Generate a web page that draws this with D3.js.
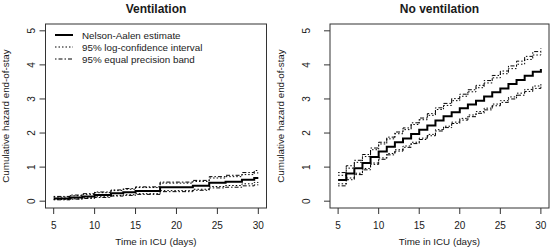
<!DOCTYPE html>
<html>
<head>
<meta charset="utf-8">
<script src="https://cdn.jsdelivr.net/npm/d3@7/dist/d3.min.js"></script>
<style>
  body { margin: 0; background: #fff; }
  svg { display: block; font-family: "Liberation Sans", Arial, sans-serif; }
</style>
</head>
<body>
<svg id="chart" width="553" height="250"></svg>
<script>
const xTicks = [5, 10, 15, 20, 25, 30];
const yTicks = [0, 1, 2, 3, 4, 5];
const tEnd = 30;

// Ventilation: jump times and step values
const ventTime = [5, 7, 8.5, 10, 12, 13.5, 15, 18, 22, 24, 26, 28, 29.5];
const ventNA   = [0.08, 0.11, 0.14, 0.18, 0.23, 0.26, 0.30, 0.41, 0.45, 0.54, 0.57, 0.63, 0.68];
const ventLogU = [0.12, 0.16, 0.20, 0.25, 0.31, 0.35, 0.40, 0.53, 0.58, 0.68, 0.72, 0.78, 0.83];
const ventLogL = [0.05, 0.07, 0.10, 0.13, 0.17, 0.19, 0.22, 0.31, 0.35, 0.43, 0.46, 0.51, 0.55];
const ventEpU  = [0.14, 0.18, 0.22, 0.27, 0.33, 0.37, 0.42, 0.56, 0.61, 0.72, 0.76, 0.84, 0.90];
const ventEpL  = [0.04, 0.06, 0.08, 0.11, 0.15, 0.17, 0.20, 0.28, 0.32, 0.39, 0.41, 0.45, 0.48];

// No ventilation
const noVentTime = [5, 6, 7, 8, 9, 10, 11, 12, 13, 14, 15, 16, 17, 18, 19, 20, 21, 22, 23, 24, 25, 26, 27, 28, 29, 30];
const noVentNA   = [0.62, 0.81, 0.97, 1.12, 1.30, 1.46, 1.60, 1.73, 1.84, 1.97, 2.10, 2.22, 2.37, 2.49, 2.61, 2.73, 2.84, 2.95, 3.07, 3.20, 3.31, 3.44, 3.56, 3.68, 3.80, 3.88];
const noVentLogU = [0.76, 0.97, 1.14, 1.31, 1.51, 1.68, 1.83, 1.98, 2.10, 2.25, 2.39, 2.52, 2.69, 2.81, 2.95, 3.08, 3.21, 3.33, 3.47, 3.62, 3.74, 3.89, 4.02, 4.16, 4.29, 4.38];
const noVentLogL = [0.51, 0.68, 0.82, 0.96, 1.12, 1.27, 1.40, 1.51, 1.62, 1.73, 1.85, 1.96, 2.10, 2.20, 2.32, 2.43, 2.53, 2.63, 2.73, 2.85, 2.95, 3.06, 3.17, 3.28, 3.38, 3.45];
const noVentEpU  = [0.84, 1.04, 1.20, 1.37, 1.56, 1.73, 1.88, 2.03, 2.15, 2.30, 2.44, 2.57, 2.74, 2.87, 3.01, 3.14, 3.27, 3.40, 3.54, 3.69, 3.82, 3.97, 4.11, 4.25, 4.39, 4.49];
const noVentEpL  = [0.45, 0.63, 0.78, 0.92, 1.08, 1.23, 1.36, 1.47, 1.58, 1.69, 1.81, 1.92, 2.06, 2.16, 2.28, 2.38, 2.48, 2.58, 2.68, 2.80, 2.90, 3.00, 3.11, 3.22, 3.31, 3.38];

const legendLabels = ['Nelson-Aalen estimate', '95% log-confidence interval', '95% equal precision band'];
const xLabel = 'Time in ICU (days)';
const yLabel = 'Cumulative hazard end-of-stay';

// line styles: estimate, log CI, equal precision
const styles = [
    {width: 2, dash: null},
    {width: 1, dash: '1.5,2'},
    {width: 1, dash: '1.5,2,4,2'}
];

const panels = [
    {title: 'Ventilation', left: 45.5, right: 266.5, ylab: 9, tickLab: 35, legend: true,
     time: ventTime, series: [ventNA, ventLogU, ventLogL, ventEpU, ventEpL]},
    {title: 'No ventilation', left: 330, right: 549, ylab: 284, tickLab: 310, legend: false,
     time: noVentTime, series: [noVentNA, noVentLogU, noVentLogL, noVentEpU, noVentEpL]}
];
const seriesStyle = [0, 1, 1, 2, 2];

const boxTop = 24, boxBottom = 208;
const svg = d3.select('#chart');
const ink = '#1a1a1a';

panels.forEach((p) => {
    const x = d3.scaleLinear().domain([4, 31]).range([p.left, p.right]);
    const y = d3.scaleLinear().domain([-0.2, 5.2]).range([boxBottom, boxTop]);
    const g = svg.append('g');

    // box
    g.append('rect')
        .attr('x', p.left).attr('y', boxTop)
        .attr('width', p.right - p.left).attr('height', boxBottom - boxTop)
        .attr('fill', 'none').attr('stroke', '#333').attr('stroke-width', 1);

    // x axis ticks
    xTicks.forEach((t) => {
        g.append('line')
            .attr('x1', x(t)).attr('x2', x(t))
            .attr('y1', boxBottom).attr('y2', boxBottom + 6)
            .attr('stroke', '#333');
        g.append('text')
            .attr('x', x(t)).attr('y', 229)
            .attr('text-anchor', 'middle')
            .attr('font-size', 10).attr('fill', ink)
            .text(t);
    });
    // y axis ticks
    yTicks.forEach((v) => {
        g.append('line')
            .attr('x1', p.left - 6).attr('x2', p.left)
            .attr('y1', y(v)).attr('y2', y(v))
            .attr('stroke', '#333');
        g.append('text')
            .attr('transform', 'translate(' + p.tickLab + ',' + y(v) + ')rotate(-90)')
            .attr('text-anchor', 'middle')
            .attr('font-size', 10).attr('fill', ink)
            .text(v);
    });

    // titles and labels
    g.append('text')
        .attr('x', (p.left + p.right) / 2).attr('y', 13)
        .attr('text-anchor', 'middle')
        .attr('font-size', 12).attr('font-weight', 'bold').attr('fill', ink)
        .text(p.title);
    g.append('text')
        .attr('x', (p.left + p.right) / 2).attr('y', 245)
        .attr('text-anchor', 'middle')
        .attr('font-size', 9.8).attr('fill', ink)
        .text(xLabel);
    g.append('text')
        .attr('transform', 'translate(' + p.ylab + ',' + (boxTop + boxBottom) / 2 + ')rotate(-90)')
        .attr('text-anchor', 'middle')
        .attr('font-size', 9.8).attr('fill', ink)
        .text(yLabel);

    // step curves
    const line = d3.line()
        .x((d) => x(d[0]))
        .y((d) => y(d[1]))
        .curve(d3.curveStepAfter);

    p.series.forEach((vals, k) => {
        const pts = vals.map((v, i) => [p.time[i], v]);
        pts.push([tEnd, vals[vals.length - 1]]);
        const st = styles[seriesStyle[k]];
        g.append('path')
            .datum(pts)
            .attr('d', line)
            .attr('fill', 'none')
            .attr('stroke', '#000')
            .attr('stroke-width', st.width)
            .attr('stroke-dasharray', st.dash);
    });

    // legend
    if (p.legend) {
        legendLabels.forEach((lab, i) => {
            const ly = 35 + i * 12;
            const st = styles[i];
            g.append('line')
                .attr('x1', 55).attr('x2', 73)
                .attr('y1', ly).attr('y2', ly)
                .attr('stroke', '#000')
                .attr('stroke-width', st.width)
                .attr('stroke-dasharray', st.dash);
            g.append('text')
                .attr('x', 82).attr('y', ly + 3.5)
                .attr('font-size', 9.8).attr('fill', ink)
                .text(lab);
        });
    }
});
</script>
</body>
</html>
